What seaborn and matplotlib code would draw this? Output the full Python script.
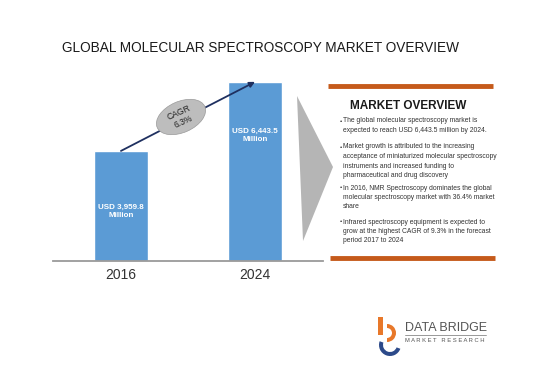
import matplotlib
matplotlib.use('Agg')
import matplotlib.pyplot as plt
import seaborn as sns
import pandas as pd
from matplotlib.patches import Ellipse, Polygon, Wedge, Rectangle

# du lieu
years = ['2016', '2024']
market_value = [3959.8, 6443.5]
bar_labels = ['USD 3,959.8\nMillion', 'USD 6,443.5\nMillion']
cagr_label = 'CAGR\n6.3%'
title = 'GLOBAL MOLECULAR SPECTROSCOPY MARKET OVERVIEW'
box_title = 'MARKET OVERVIEW'
bullets = [
    'The global molecular spectroscopy market is\nexpected to reach USD 6,443.5 million by 2024.',
    'Market growth is attributed to the increasing\nacceptance of miniaturized molecular spectroscopy\ninstruments and increased funding to\npharmaceutical and drug discovery',
    'In 2016, NMR Spectroscopy dominates the global\nmolecular spectroscopy market with 36.4% market\nshare',
    'Infrared spectroscopy equipment is expected to\ngrow at the highest CAGR of 9.3% in the forecast\nperiod 2017 to 2024',
]

sns.set_style('white')
plt.rcParams['font.family'] = ['Liberation Sans', 'DejaVu Sans']

df = pd.DataFrame({'year': years, 'value': market_value})

fig = plt.figure(figsize=(5.5, 3.85), dpi=100)

# lop nen de ve trang tri (toa do pixel)
bg = fig.add_axes([0, 0, 1, 1])
bg.set_xlim(0, 550)
bg.set_ylim(385, 0)
bg.axis('off')

bg.text(261, 48, title, ha='center', va='center', fontsize=9.8, color='#1a1a1a')

# tam giac xam
bg.add_patch(Polygon([[297, 96], [333, 167], [303, 241]], closed=True,
                     facecolor='#b5b5b5', edgecolor='none'))

# khung market overview
bg.plot([328, 493], [86, 86], color='#c55a1b', lw=3.5, solid_capstyle='butt')
bg.plot([330, 495], [258, 258], color='#c55a1b', lw=3.5, solid_capstyle='butt')
bg.text(408, 106, box_title, ha='center', va='center', fontsize=8.5,
        fontweight='bold', color='#1a1a1a')
y0 = [121, 147, 188, 222]
for yy, b in zip(y0, bullets):
    bg.text(340, yy, '\u2022', ha='left', va='center', fontsize=4.5, color='#333333')
    bg.text(343, yy - 3.5, b, ha='left', va='top', fontsize=4.85, color='#333333',
            linespacing=1.5)

# logo
bg.add_patch(Rectangle((378, 317), 5, 18, facecolor='#e8782a', edgecolor='none'))
bg.add_patch(Wedge((387, 333), 9, -90, 90, width=4, facecolor='#e8782a', edgecolor='none'))
bg.add_patch(Wedge((390, 345), 11, 20, 200, width=4, facecolor='#2c4a8a', edgecolor='none'))
bg.text(405, 328, 'DATA BRIDGE', ha='left', va='center', fontsize=9, color='#555555')
bg.plot([405, 486], [334.5, 334.5], color='#888888', lw=0.6)
bg.text(405, 341, 'M A R K E T   R E S E A R C H', ha='left', va='center',
        fontsize=4.2, color='#555555')

# bieu do cot
ax = fig.add_axes([53 / 550, 1 - 261 / 385, 270 / 550, 191 / 385])
ax.patch.set_alpha(0)
sns.barplot(data=df, x='year', y='value', color='#5b9bd5', width=0.4,
            saturation=1, ax=ax)
ax.set_xlim(-0.507, 1.507)
ax.set_ylim(0, 6870)
ax.set_xlabel('')
ax.set_ylabel('')
ax.set_yticks([])
ax.tick_params(axis='x', length=0, labelsize=10, labelcolor='#333333', pad=5)
for s in ['top', 'left', 'right']:
    ax.spines[s].set_visible(False)
ax.spines['bottom'].set_color('#9a9a9a')
ax.spines['bottom'].set_linewidth(1.3)

label_pos = [0.45, 0.7]
for i, (v, lab) in enumerate(zip(market_value, bar_labels)):
    ax.text(i, v * label_pos[i], lab, ha='center', va='center', color='white',
            fontsize=5.8, fontweight='bold', linespacing=1.3)

ax.annotate('', xy=(1, market_value[1]), xytext=(0, market_value[0]),
            arrowprops=dict(arrowstyle='-|>', color='#1f3060', lw=1.3,
                            mutation_scale=8, shrinkA=0, shrinkB=0))

# elip CAGR
bg.add_patch(Ellipse((181, 117), 52, 31, angle=-24, facecolor='#bdbdbd',
                     edgecolor='#9a9a9a', lw=0.5, zorder=5))
bg.text(181, 117, cagr_label, ha='center', va='center', rotation=24, fontsize=6.2,
        color='#222222', zorder=6, linespacing=1.1)
bg.set_zorder(ax.get_zorder() + 1)
bg.patch.set_alpha(0)

fig.savefig('out.png', dpi=100)
